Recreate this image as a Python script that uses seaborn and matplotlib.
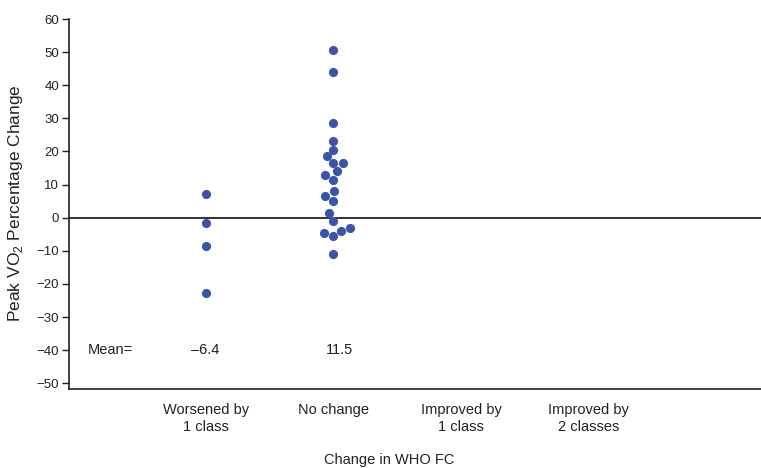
import numpy as np
import pandas as pd
import seaborn as sns
import matplotlib.pyplot as plt

# categories on the x axis
categories = ["Worsened by\n1 class", "No change", "Improved by\n1 class", "Improved by\n2 classes"]

# peak VO2 % change per patient
worsened = [7.2, -1.5, -8.5, -22.8]
no_change = [50.5, 44.0, 28.7, 23.3, 20.5, 18.5, 16.5, 13.0, 16.5, 14.0, 11.5,
             6.6, 8.0, 5.0, 1.5, -1.0, -3.0, -4.5, -4.0, -5.5, -11.0]
mean_labels = ["\u20136.4", "11.5"]
y_ticks = list(range(-50, 61, 10))

df = pd.DataFrame({
    "group": [categories[0]] * len(worsened) + [categories[1]] * len(no_change),
    "pct": worsened + no_change,
})

sns.set_style("ticks")
plt.rcParams["font.family"] = ["Liberation Sans", "DejaVu Sans"]
plt.rcParams["mathtext.fontset"] = "custom"
plt.rcParams["mathtext.rm"] = "Liberation Sans"

fig = plt.figure(figsize=(7.61, 4.68), dpi=100)
ax = fig.add_axes([69 / 761, 79 / 468, 692 / 761, 370 / 468])

sns.swarmplot(data=df, x="group", y="pct", order=categories, color="#3b54a6",
              size=6.6, marker="o", linewidth=0, ax=ax)

ax.axhline(0, color="#333333", lw=1.4, zorder=1)

ax.set_xlim(-1.07, 4.35)
ax.set_ylim(-51.7, 60)
ax.set_yticks(y_ticks)
ax.set_xticks(range(len(categories)), categories, linespacing=1.3)
ax.tick_params(axis="y", length=5, width=1, color="#222222", labelsize=9.5, pad=2, labelcolor="#222222")
ax.tick_params(axis="x", length=0, labelsize=10.5, pad=10, labelcolor="#222222")
for s in ["top", "right"]:
    ax.spines[s].set_visible(False)
for s in ["left", "bottom"]:
    ax.spines[s].set_color("#222222")
    ax.spines[s].set_linewidth(1.2)

ax.set_ylabel("Peak VO$_\\mathregular{2}$ Percentage Change", fontsize=12.5, color="#222222")
ax.yaxis.set_label_coords(-0.064, 0.503)
ax.set_xlabel("Change in WHO FC", fontsize=10.5, color="#222222")
ax.xaxis.set_label_coords(0.462, -0.172)

ax.text(-0.92, -40, "Mean=", fontsize=10.5, va="center", ha="left", color="#222222")
for i, m in enumerate(mean_labels):
    ax.text(i + 0.05 * i, -40, m, fontsize=10.5, va="center", ha="center", color="#222222")

fig.savefig("out.png", dpi=100)
